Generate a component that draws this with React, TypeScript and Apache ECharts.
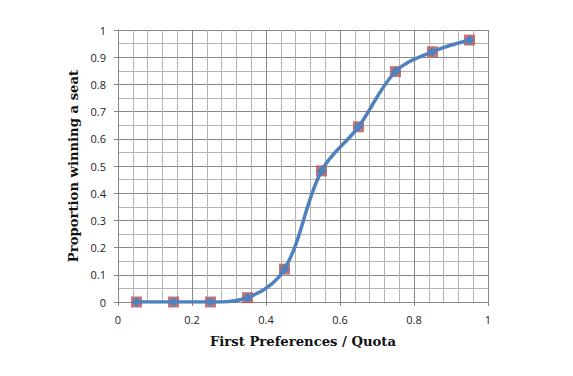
import React, { useEffect, useRef } from "react";
import * as echarts from "echarts";

const xValues = [0.05, 0.15, 0.25, 0.35, 0.45, 0.55, 0.65, 0.75, 0.85, 0.95];
const yValues = [0, 0, 0, 0.016, 0.121, 0.482, 0.644, 0.847, 0.92, 0.963];
const xTitle = "First Preferences / Quota";
const yTitle = "Proportion winning a seat";

export default function App() {
  const ref = useRef<HTMLDivElement>(null);
  useEffect(() => {
    if (!ref.current) return;
    const chart = echarts.init(ref.current, null, { renderer: "svg" });
    const pts = xValues.map((x, i) => [x, yValues[i]]);
    const labelFont = { fontFamily: "Open Sans", fontSize: 11, color: "#222" };
    chart.setOption({
      animation: false,
      backgroundColor: "#fff",
      grid: { left: 118, right: 85, top: 30, bottom: 74 },
      xAxis: {
        type: "value",
        min: 0,
        max: 1,
        interval: 0.2,
        name: xTitle,
        nameLocation: "middle",
        nameGap: 33,
        nameTextStyle: { fontFamily: "DejaVu Serif", fontWeight: "bold", fontSize: 13.2, color: "#111" },
        axisLine: { show: true, onZero: false, lineStyle: { color: "#868686", width: 1 } },
        axisTick: { show: true, length: 4, lineStyle: { color: "#868686" } },
        axisLabel: { ...labelFont, margin: 12 },
        splitLine: { show: true, lineStyle: { color: "#868686", width: 1 } },
        minorTick: { show: false, splitNumber: 5 },
        minorSplitLine: { show: true, lineStyle: { color: "#b4b4b4", width: 1 } },
      },
      yAxis: {
        type: "value",
        min: 0,
        max: 1,
        interval: 0.1,
        name: yTitle,
        nameLocation: "middle",
        nameGap: 37,
        nameTextStyle: { fontFamily: "DejaVu Serif", fontWeight: "bold", fontSize: 13.2, color: "#111" },
        axisLine: { show: true, lineStyle: { color: "#868686", width: 1 } },
        axisTick: { show: true, length: 4, lineStyle: { color: "#868686" } },
        axisLabel: { ...labelFont, margin: 12 },
        splitLine: { show: true, lineStyle: { color: "#868686", width: 1 } },
        minorTick: { show: false, splitNumber: 2 },
        minorSplitLine: { show: true, lineStyle: { color: "#b4b4b4", width: 1 } },
      },
      series: [
        {
          type: "scatter",
          data: pts,
          symbol: "rect",
          symbolSize: 11,
          itemStyle: { color: "#C0504D" },
          z: 2,
        },
        {
          type: "line",
          data: pts,
          smooth: 0.35,
          symbol: "diamond",
          symbolSize: 10,
          lineStyle: { color: "#4F81BD", width: 3.5 },
          itemStyle: { color: "#4F81BD" },
          z: 3,
        },
      ],
    });
    return () => chart.dispose();
  }, []);
  return <div ref={ref} style={{ position: "fixed", left: 0, top: 0, width: 573, height: 376 }} />;
}
